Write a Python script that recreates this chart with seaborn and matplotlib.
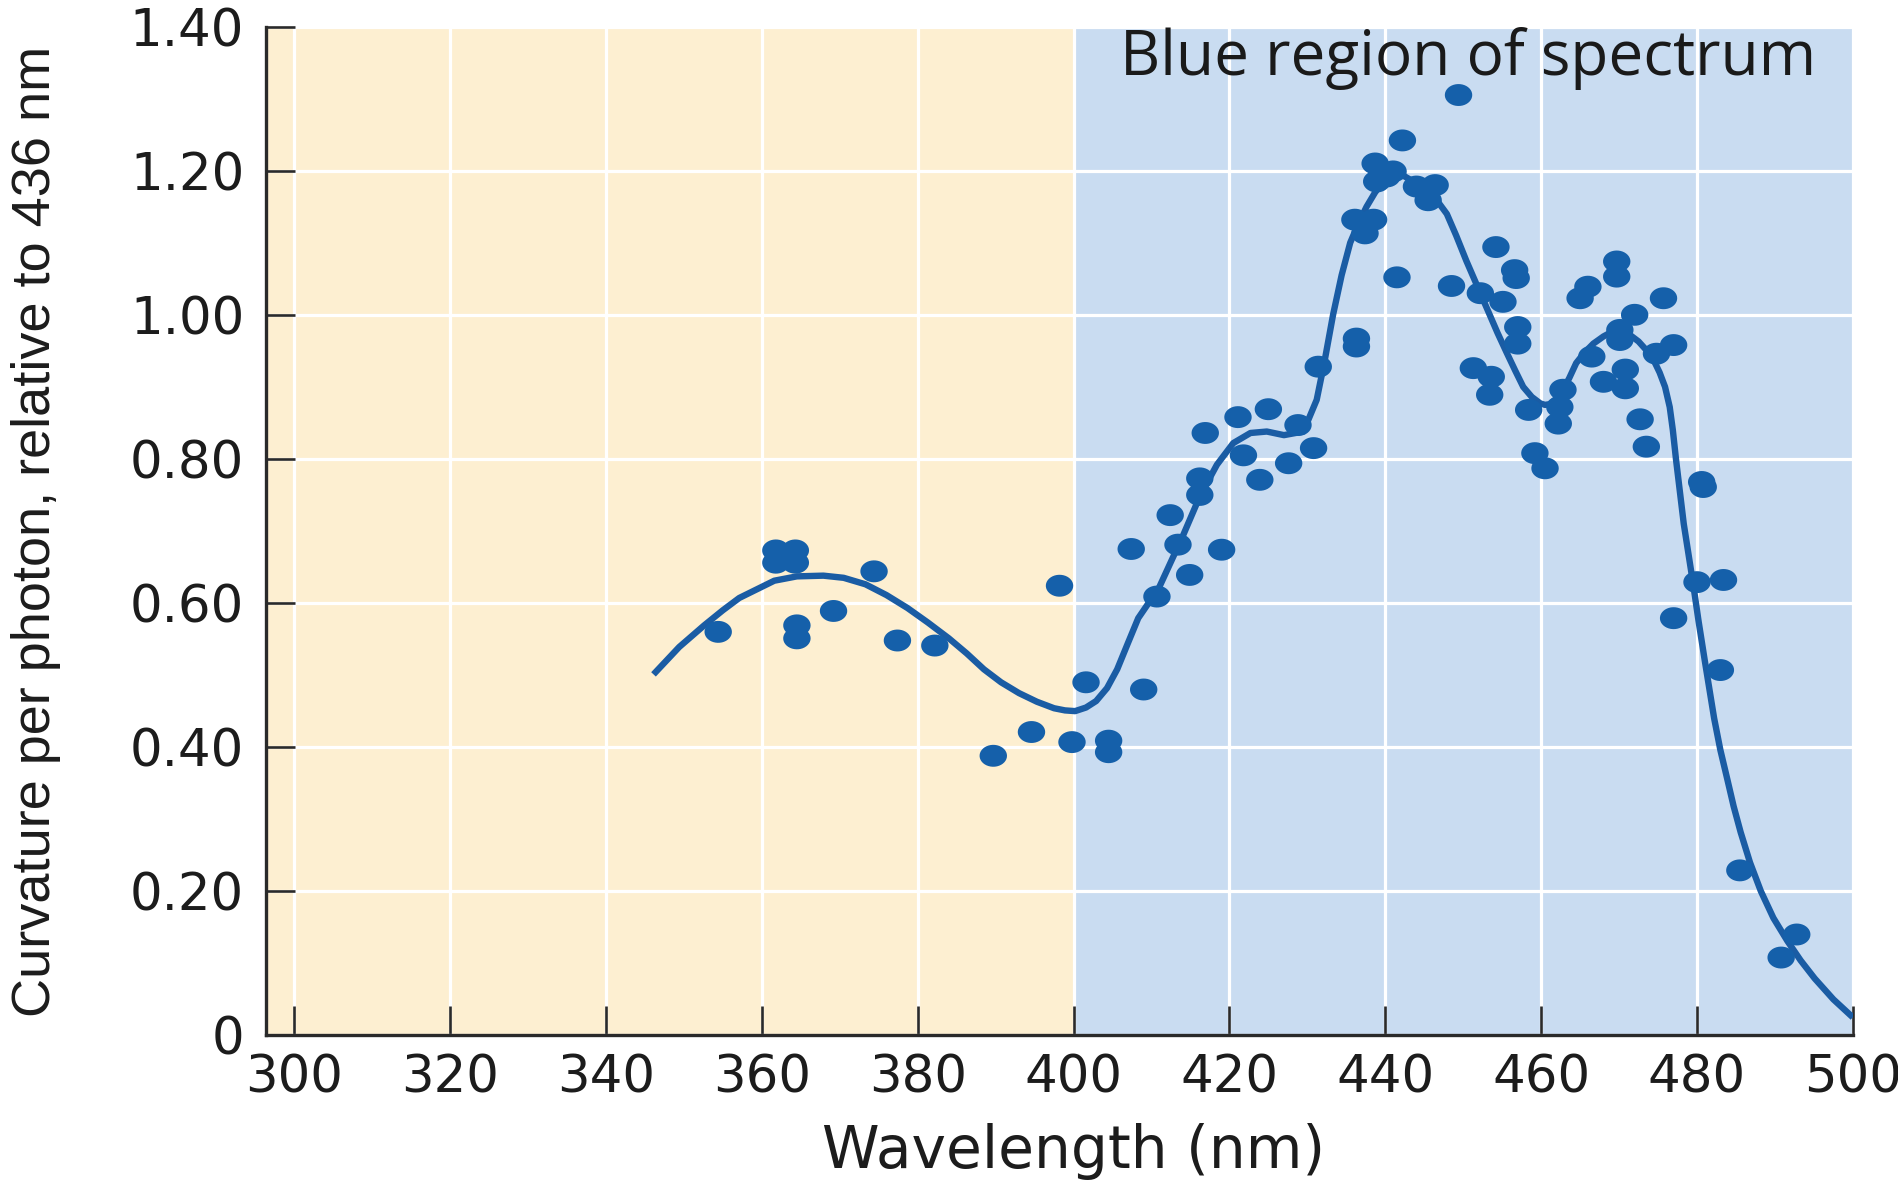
import numpy as np
import pandas as pd
import matplotlib
matplotlib.use("Agg")
import matplotlib.pyplot as plt
import seaborn as sns
from matplotlib import font_manager
from matplotlib.path import Path

# ---------------- data ----------------
dot_wavelength = [354.4, 361.8, 364.3, 361.8, 364.3, 364.5, 364.5, 369.2, 374.4, 377.4,
                  382.2, 389.7, 394.6, 398.2, 399.8, 401.6, 404.5, 404.5, 407.4, 409.0,
                  410.7, 412.4, 413.4, 414.9, 416.2, 416.2, 416.9, 419.0, 421.1, 421.8,
                  423.9, 425.0, 427.6, 428.8, 430.8, 431.4, 436.3, 436.3, 436.1, 438.5,
                  437.4, 438.7, 438.9, 440.2, 441.0, 441.5, 442.2, 444.0, 446.4, 445.5,
                  448.5, 449.4, 451.3, 453.6, 453.4, 452.2, 454.2, 455.1, 456.6, 456.8,
                  457.0, 457.0, 458.4, 459.2, 460.5, 462.8, 462.4, 462.2, 465.0, 466.0,
                  466.5, 468.0, 469.7, 469.7, 470.1, 470.1, 472.0, 470.8, 470.8, 472.7,
                  473.5, 474.8, 475.7, 477.0, 477.0, 480.6, 480.8, 480.0, 483.4, 483.0,
                  485.5, 490.8, 492.8]
dot_curvature = [0.560, 0.673, 0.673, 0.656, 0.656, 0.569, 0.551, 0.589, 0.644, 0.548,
                 0.541, 0.388, 0.421, 0.624, 0.407, 0.490, 0.409, 0.393, 0.675, 0.480,
                 0.609, 0.722, 0.681, 0.639, 0.773, 0.750, 0.836, 0.674, 0.858, 0.805,
                 0.771, 0.869, 0.794, 0.847, 0.815, 0.928, 0.967, 0.956, 1.132, 1.132,
                 1.113, 1.210, 1.185, 1.192, 1.199, 1.052, 1.242, 1.178, 1.180, 1.159,
                 1.040, 1.305, 0.926, 0.914, 0.889, 1.030, 1.094, 1.018, 1.062, 1.051,
                 0.983, 0.960, 0.868, 0.808, 0.787, 0.896, 0.872, 0.849, 1.023, 1.039,
                 0.942, 0.907, 1.074, 1.053, 0.979, 0.965, 1.000, 0.924, 0.898, 0.855,
                 0.817, 0.946, 1.023, 0.958, 0.579, 0.768, 0.761, 0.629, 0.632, 0.507,
                 0.229, 0.108, 0.140]

curve_wavelength = [346.1, 349.4, 352.6, 355.0, 357.1, 361.6, 364.5, 367.9, 370.5, 373.3,
                    376.0, 378.7, 381.3, 384.0, 386.3, 388.5, 390.7, 393.0, 395.3, 397.5,
                    398.9, 400.2, 401.6, 402.9, 404.3, 405.6, 407.0, 408.3, 409.5, 410.7,
                    412.4, 414.1, 416.2, 418.4, 420.5, 422.7, 424.8, 427.0, 429.5, 431.2,
                    432.2, 433.3, 434.4, 435.5, 436.6, 437.6, 438.7, 439.7, 440.6, 441.5,
                    442.5, 443.6, 444.9, 446.2, 447.9, 449.1, 450.4, 451.8, 453.2, 454.4,
                    455.6, 456.7, 457.7, 458.8, 459.9, 460.5, 461.1, 462.0, 462.8, 463.6,
                    464.5, 465.6, 466.7, 468.0, 469.2, 470.3, 471.4, 472.5, 473.5, 474.4,
                    475.2, 475.9, 476.5, 476.9, 477.3, 478.3, 479.5, 480.2, 481.0, 482.2,
                    483.0, 483.9, 484.7, 485.6, 486.8, 488.2, 489.8, 491.6, 493.3, 495.1,
                    497.5, 500.0]
curve_curvature = [0.501, 0.539, 0.569, 0.590, 0.607, 0.631, 0.637, 0.638, 0.635, 0.626,
                   0.611, 0.593, 0.573, 0.551, 0.530, 0.508, 0.490, 0.475, 0.463, 0.454,
                   0.451, 0.450, 0.455, 0.464, 0.482, 0.508, 0.545, 0.579, 0.598, 0.615,
                   0.655, 0.695, 0.748, 0.792, 0.822, 0.836, 0.838, 0.833, 0.838, 0.882,
                   0.935, 1.000, 1.055, 1.100, 1.128, 1.150, 1.170, 1.184, 1.192, 1.195,
                   1.192, 1.185, 1.177, 1.165, 1.140, 1.110, 1.075, 1.040, 1.005, 0.975,
                   0.947, 0.922, 0.900, 0.886, 0.877, 0.875, 0.876, 0.884, 0.896, 0.912,
                   0.933, 0.948, 0.960, 0.970, 0.977, 0.978, 0.972, 0.963, 0.951, 0.938,
                   0.920, 0.900, 0.872, 0.840, 0.800, 0.710, 0.627, 0.575, 0.520, 0.440,
                   0.396, 0.355, 0.318, 0.282, 0.240, 0.200, 0.163, 0.131, 0.104, 0.079,
                   0.050, 0.025]

x_ticks = [300, 320, 340, 360, 380, 400, 420, 440, 460, 480, 500]
y_ticks = [0, 0.2, 0.4, 0.6, 0.8, 1.0, 1.2, 1.4]
y_tick_labels = ["0", "0.20", "0.40", "0.60", "0.80", "1.00", "1.20", "1.40"]
blue_region = (400, 500)
region_label = "Blue region of spectrum"
x_label = "Wavelength (nm)"
y_label = "Curvature per photon, relative to 436 nm"

# ---------------- styling ----------------
sns.set_theme(style="white")
plt.rcParams['font.family'] = ['DejaVu Sans']

names = {f.name for f in font_manager.fontManager.ttflist}
ylab_family = 'Liberation Sans Narrow' if 'Liberation Sans Narrow' in names else 'Liberation Sans'
note_family = 'Open Sans' if 'Open Sans' in names else 'DejaVu Sans'

DOT = '#1560AA'
LINE = '#1A5CA4'
YELLOW = '#FDEFD1'
BLUE = '#C9DCF1'
DARK = '#2A2A2A'

fig = plt.figure(figsize=(18.99, 11.81), dpi=100)
ax = fig.add_axes([0.1403, 0.1233, 0.8354, 0.8542])
xmin, xmax = 296.43, 500.0
ax.set_xlim(xmin, xmax)
ax.set_ylim(0, 1.40)

ax.axvspan(xmin, blue_region[0], color=YELLOW, lw=0, zorder=0)
ax.axvspan(blue_region[0], blue_region[1], color=BLUE, lw=0, zorder=0)
ax.set_axisbelow(True)
ax.grid(True, color='white', lw=2.3)

curve_df = pd.DataFrame({"wavelength": curve_wavelength, "curvature": curve_curvature})
dots_df = pd.DataFrame({"wavelength": dot_wavelength, "curvature": dot_curvature})

sns.lineplot(data=curve_df, x="wavelength", y="curvature", sort=False,
             estimator=None, color=LINE, lw=4.6, ax=ax, zorder=3)
for ln in ax.get_lines():
    ln.set_solid_joinstyle('round')
    ln.set_solid_capstyle('butt')

t = np.linspace(0, 2 * np.pi, 40)
ellipse = Path(np.column_stack([np.cos(t), 0.8 * np.sin(t)]), closed=True)
sns.scatterplot(data=dots_df, x="wavelength", y="curvature", marker=ellipse, s=390,
                color=DOT, edgecolor='none', linewidth=0, ax=ax, zorder=4)

ax.set_xticks(x_ticks)
ax.set_yticks(y_ticks)
ax.set_yticklabels(y_tick_labels)
ax.tick_params(axis='both', direction='in', length=21, width=1.9, color=DARK,
               labelsize=37, labelcolor='#1C1C1C', bottom=True, left=True)
ax.tick_params(axis='x', pad=13)
ax.tick_params(axis='y', pad=16)

for side in ['top', 'right']:
    ax.spines[side].set_visible(False)
for side in ['left', 'bottom']:
    ax.spines[side].set_color(DARK)
    ax.spines[side].set_linewidth(2.4)
    ax.spines[side].set_zorder(5)

xl = ax.set_xlabel(x_label, fontsize=40, color='#1C1C1C')
ax.xaxis.set_label_coords(0.509, -0.115)
xl.set_va('center')
yl = ax.set_ylabel(y_label, fontsize=38, color='#1C1C1C', family=ylab_family)
ax.yaxis.set_label_coords(-0.1454, 0.5)
yl.set_va('center')

note = ax.text(450.6, 1.355, region_label, ha='center', va='center', fontsize=42,
               color='#1A1A1A', family=note_family, zorder=6)

# fit text sizes to the measured extents in the reference
fig.canvas.draw()
r = fig.canvas.get_renderer()
def fit(txt, target, dim):
    bb = txt.get_window_extent(r)
    cur = bb.width if dim == 'w' else bb.height
    txt.set_fontsize(txt.get_fontsize() * target / cur)
fit(yl, 971, 'h')
fit(xl, 503, 'w')
fit(note, 697, 'w')

fig.savefig("out.png", dpi=100)
